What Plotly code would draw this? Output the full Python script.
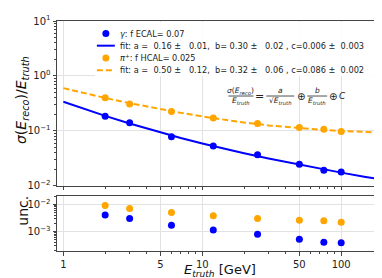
import math
import plotly.graph_objects as go

# ---------------- data ----------------
energies = [2, 3, 6, 12, 25, 50, 75, 100]
gamma_res = [0.184, 0.140, 0.078, 0.053, 0.037, 0.0246, 0.0192, 0.0179]
pion_res = [0.40, 0.31, 0.226, 0.172, 0.136, 0.115, 0.107, 0.098]
gamma_unc = [0.0041, 0.0030, 0.0017, 0.00115, 0.0008, 0.00052, 0.00041, 0.00039]
pion_unc = [0.0090, 0.0070, 0.0050, 0.0038, 0.0030, 0.0026, 0.0025, 0.0022]

fit_energies = [1, 1.5, 2, 3, 5, 7, 10, 15, 20, 30, 50, 70, 100, 150, 200]
gamma_fit = [0.340, 0.239, 0.188, 0.136, 0.0936, 0.0744, 0.0591, 0.0463, 0.0393,
             0.0315, 0.0242, 0.0205, 0.0174, 0.0145, 0.0129]
pion_fit = [0.600, 0.469, 0.398, 0.320, 0.248, 0.213, 0.183, 0.157, 0.142,
            0.126, 0.1115, 0.105, 0.0995, 0.0952, 0.0930]

x_tickvals = [1, 5, 10, 50, 100]
x_ticktext = ["1", "5", "10", "50", "100"]
y_top_tickvals = [0.01, 0.1, 1, 10]
y_top_ticktext = ["10<sup>\u22122</sup>", "10<sup>\u22121</sup>", "10<sup>0</sup>", "10<sup>1</sup>"]
y_bot_tickvals = [0.001, 0.01]
y_bot_ticktext = ["10<sup>\u22123</sup>", "10<sup>\u22122</sup>"]

legend_labels = [
    "<i>\u03b3</i>: f ECAL= 0.07",
    "fit: a =\u00a0 0.16 \u00b1\u00a0\u00a0 0.01,\u00a0 b= 0.30 \u00b1\u00a0\u00a0 0.02 , c=0.006 \u00b1\u00a0 0.003",
    "<i>\u03c0</i><sup>+</sup>: f HCAL= 0.025",
    "fit: a =\u00a0 0.50 \u00b1\u00a0\u00a0 0.12,\u00a0 b= 0.32 \u00b1\u00a0\u00a0 0.06 , c=0.086 \u00b1\u00a0 0.002",
]

BLUE = "#0000ff"
ORANGE = "#ffa500"
FONT = "DejaVu Sans"

# ---------------- layout geometry (pixels) ----------------
W, H = 382, 278
PL, PR, PT, PB = 49, 376, 10, 243
TOP_BOTTOM_PX = 177
BOT_TOP_PX = 187


def px(xp):
    return (xp - PL) / (PR - PL)


def py(yp):
    return (PB - yp) / (PB - PT)


def minor_vals(pmin, pmax):
    return [k * 10 ** p for p in range(pmin, pmax + 1) for k in range(2, 10)]


fig = go.Figure()

fig.add_trace(go.Scatter(x=fit_energies, y=gamma_fit, mode="lines",
                         line=dict(color=BLUE, width=2), xaxis="x", yaxis="y",
                         showlegend=False))
fig.add_trace(go.Scatter(x=fit_energies, y=pion_fit, mode="lines",
                         line=dict(color=ORANGE, width=2, dash="6px,3px"),
                         xaxis="x", yaxis="y", showlegend=False))
fig.add_trace(go.Scatter(x=energies, y=gamma_res, mode="markers",
                         marker=dict(color=BLUE, size=7), xaxis="x", yaxis="y",
                         showlegend=False))
fig.add_trace(go.Scatter(x=energies, y=pion_res, mode="markers",
                         marker=dict(color=ORANGE, size=7), xaxis="x", yaxis="y",
                         showlegend=False))
fig.add_trace(go.Scatter(x=energies, y=pion_unc, mode="markers",
                         marker=dict(color=ORANGE, size=7), xaxis="x2", yaxis="y2",
                         showlegend=False))
fig.add_trace(go.Scatter(x=energies, y=gamma_unc, mode="markers",
                         marker=dict(color=BLUE, size=7), xaxis="x2", yaxis="y2",
                         showlegend=False))

axis_common = dict(
    showline=True, linecolor="#444", linewidth=1, mirror=True,
    ticks="outside", ticklen=3.5, tickwidth=1, tickcolor="#444",
    showgrid=True, gridcolor="#e2e2e2", gridwidth=1, zeroline=False,
    tickfont=dict(size=10, color="#222", family=FONT),
)
minor_common = dict(ticks="outside", ticklen=2, tickwidth=0.8, tickcolor="#444", showgrid=False)

xrange = [math.log10(0.9), math.log10(200)]

fig.update_layout(
    width=W, height=H,
    margin=dict(l=PL, r=W - PR, t=PT, b=H - PB),
    paper_bgcolor="white", plot_bgcolor="white",
    font=dict(family=FONT, color="#222"),
    showlegend=False,
    xaxis=dict(type="log", range=xrange, anchor="y", tickmode="array",
               tickvals=x_tickvals, ticktext=x_ticktext, showticklabels=False,
               minor=dict(tickmode="array", tickvals=minor_vals(0, 2), **minor_common),
               **axis_common),
    yaxis=dict(type="log", range=[-2, 1], anchor="x",
               domain=[py(TOP_BOTTOM_PX), 1], tickmode="array",
               tickvals=y_top_tickvals, ticktext=y_top_ticktext,
               minor=dict(tickmode="array", tickvals=minor_vals(-2, 0), **minor_common),
               **axis_common),
    xaxis2=dict(type="log", range=xrange, anchor="y2", matches="x", tickmode="array",
                tickvals=x_tickvals, ticktext=x_ticktext,
                minor=dict(tickmode="array", tickvals=minor_vals(0, 2), **minor_common),
                **axis_common),
    yaxis2=dict(type="log", range=[-3.71, -1.685], anchor="x2",
                domain=[0, py(BOT_TOP_PX)], tickmode="array",
                tickvals=y_bot_tickvals, ticktext=y_bot_ticktext,
                minor=dict(tickmode="array", tickvals=minor_vals(-4, -2), **minor_common),
                **axis_common),
)

shapes = []
annotations = []

# legend box
shapes.append(dict(type="rect", xref="paper", yref="paper",
                   x0=px(87), x1=px(372), y0=py(66), y1=py(11),
                   fillcolor="rgba(255,255,255,0.9)", line=dict(width=0), layer="above"))
row_y = [22.7, 35, 47.5, 60]
# legend symbols
shapes.append(dict(type="circle", xref="paper", yref="paper", xsizemode="pixel", ysizemode="pixel",
                   xanchor=px(98), yanchor=py(row_y[0]), x0=-3.5, x1=3.5, y0=-3.5, y1=3.5,
                   fillcolor=BLUE, line=dict(width=0), layer="above"))
shapes.append(dict(type="line", xref="paper", yref="paper",
                   x0=px(89), x1=px(107), y0=py(row_y[1]), y1=py(row_y[1]),
                   line=dict(color=BLUE, width=2), layer="above"))
shapes.append(dict(type="circle", xref="paper", yref="paper", xsizemode="pixel", ysizemode="pixel",
                   xanchor=px(98), yanchor=py(row_y[2]), x0=-3.5, x1=3.5, y0=-3.5, y1=3.5,
                   fillcolor=ORANGE, line=dict(width=0), layer="above"))
shapes.append(dict(type="line", xref="paper", yref="paper",
                   x0=px(89), x1=px(107), y0=py(row_y[3]), y1=py(row_y[3]),
                   line=dict(color=ORANGE, width=2, dash="6px,3px"), layer="above"))
for lab, yy in zip(legend_labels, row_y):
    annotations.append(dict(text=lab, xref="paper", yref="paper", x=px(110), y=py(yy),
                            xanchor="left", yanchor="middle", showarrow=False,
                            font=dict(size=8.2, family=FONT, color="#222")))

# formula: sigma(E_reco)/E_truth = a/sqrt(E_truth) (+) b/E_truth (+) c
BAR_Y = 86
NUM_Y = 80.5
DEN_Y = 91.5
FS = 7.5
fracs = [
    ("<i>\u03c3</i>(<i>E</i><sub><i>reco</i></sub>)", "<i>E</i><sub><i>truth</i></sub>", 221, 246),
    ("<i>a</i>", "\u221a<i>E</i><sub><i>truth</i></sub>", 259, 287),
    ("<i>b</i>", "<i>E</i><sub><i>truth</i></sub>", 300, 320),
]
for num, den, xa, xb in fracs:
    xc = (xa + xb) / 2
    shapes.append(dict(type="line", xref="paper", yref="paper",
                       x0=px(xa), x1=px(xb), y0=py(BAR_Y), y1=py(BAR_Y),
                       line=dict(color="#222", width=0.8)))
    annotations.append(dict(text=num, xref="paper", yref="paper", x=px(xc), y=py(NUM_Y),
                            xanchor="center", yanchor="middle", showarrow=False,
                            font=dict(size=FS, family=FONT, color="#222")))
    annotations.append(dict(text=den, xref="paper", yref="paper", x=px(xc), y=py(DEN_Y),
                            xanchor="center", yanchor="middle", showarrow=False,
                            font=dict(size=FS, family=FONT, color="#222")))
for txt, xc, fs in [("=", 252.5, 11), ("\u2295", 294, 10), ("\u2295", 326, 10), ("<i>C</i>", 335, 9)]:
    annotations.append(dict(text=txt, xref="paper", yref="paper", x=px(xc), y=py(BAR_Y),
                            xanchor="center", yanchor="middle", showarrow=False,
                            font=dict(size=fs, family=FONT, color="#222")))

# axis titles
annotations.append(dict(text="<i>\u03c3</i>(<i>E</i><sub><i>reco</i></sub>)/<i>E</i><sub><i>truth</i></sub>",
                        xref="paper", yref="paper", x=px(14), y=py(90), textangle=-90,
                        xanchor="center", yanchor="middle", showarrow=False,
                        font=dict(size=14, family=FONT, color="#111")))
annotations.append(dict(text="unc.", xref="paper", yref="paper", x=px(14), y=py(202), textangle=-90,
                        xanchor="center", yanchor="middle", showarrow=False,
                        font=dict(size=14, family=FONT, color="#111")))
annotations.append(dict(text="<i>E</i><sub><i>truth</i></sub> [GeV]", xref="paper", yref="paper",
                        x=px(212), y=py(262.5), xanchor="center", yanchor="middle", showarrow=False,
                        font=dict(size=13, family=FONT, color="#111")))

fig.update_layout(shapes=shapes, annotations=annotations)
fig.write_html("out.html")
